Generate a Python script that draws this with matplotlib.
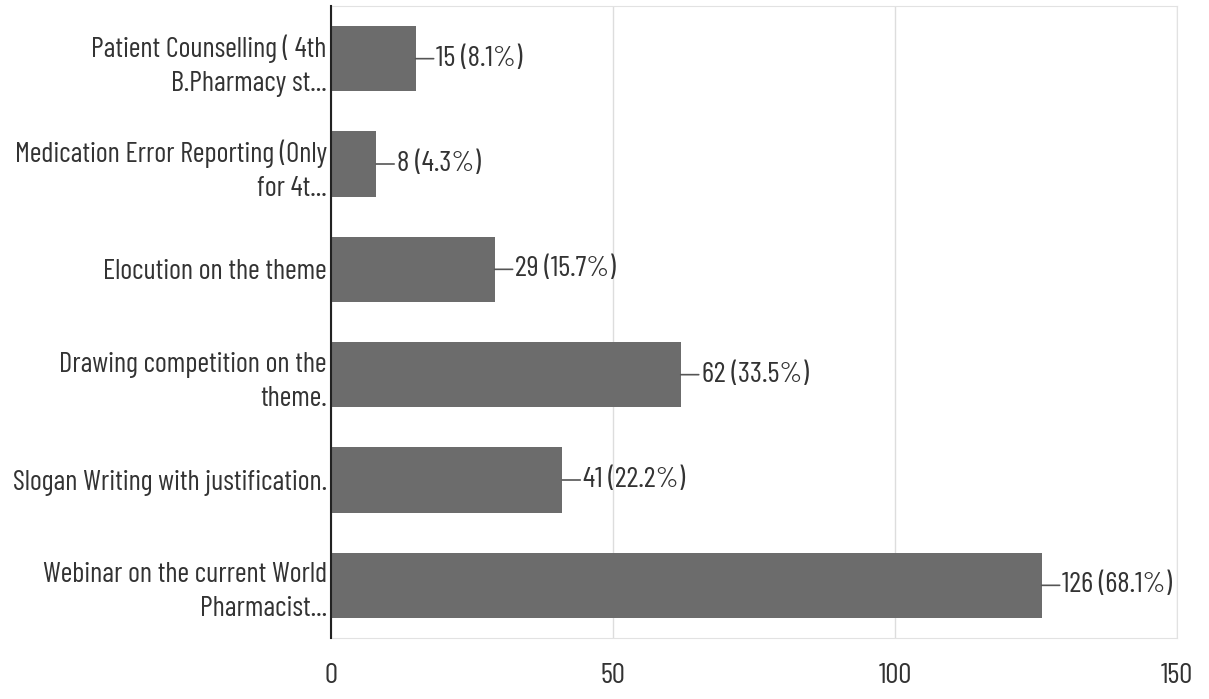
import matplotlib.pyplot as plt

plt.rcParams['font.family'] = ['Barlow Condensed', 'Roboto Condensed', 'DejaVu Sans']

# Data (top to bottom as in the chart)
labels = [
    "Patient Counselling ( 4th\nB.Pharmacy st...",
    "Medication Error Reporting (Only\nfor 4t...",
    "Elocution on the theme",
    "Drawing competition on the\ntheme.",
    "Slogan Writing with justification.",
    "Webinar on the current World\nPharmacist...",
]
counts = [15, 8, 29, 62, 41, 126]
percents = [8.1, 4.3, 15.7, 33.5, 22.2, 68.1]
xticks = [0, 50, 100, 150]

fig = plt.figure(figsize=(12.09, 6.99), dpi=100)
ax = fig.add_axes([331 / 1209, 1 - 638 / 699, (1177 - 331) / 1209, (638 - 6) / 699])

ypos = list(range(len(labels)))
ax.barh(ypos, counts, height=0.62, color="#6c6c6c", zorder=2)
ax.set_ylim(len(labels) - 0.5, -0.5)
ax.set_xlim(0, 150)

for y, c, p in zip(ypos, counts, percents):
    ax.annotate(f"{c} ({p}%)", xy=(c, y), xytext=(15, 0), textcoords="offset points",
                ha="left", va="center", fontsize=21, color="#333333",
                arrowprops=dict(arrowstyle="-", color="#555555", lw=1.2,
                                shrinkA=0, shrinkB=0))

ax.set_yticks(ypos)
ax.set_yticklabels(labels, fontsize=20.5, color="#333333", linespacing=1.4)
ax.set_xticks(xticks)
ax.set_xticklabels([str(t) for t in xticks], fontsize=21, color="#333333")
ax.tick_params(axis="both", length=0)
ax.tick_params(axis="x", pad=18)
ax.tick_params(axis="y", pad=3)

ax.grid(axis="x", color="#dddddd", lw=1, zorder=0)
for s in ["top", "right", "bottom"]:
    ax.spines[s].set_color("#e2e2e2")
ax.spines["left"].set_color("#222222")
ax.spines["left"].set_linewidth(1.5)
ax.spines["left"].set_zorder(3)

fig.savefig("out.png", dpi=100)
